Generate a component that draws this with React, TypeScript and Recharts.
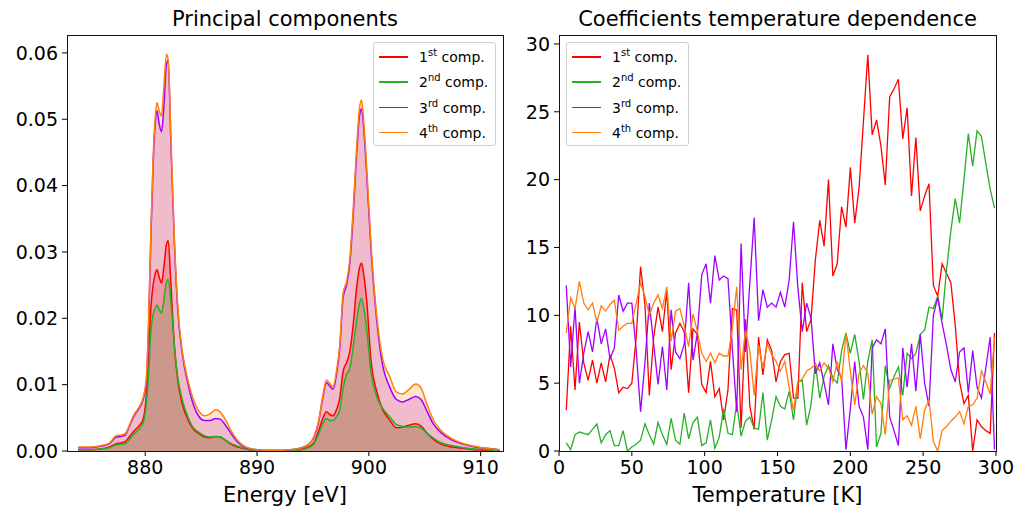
import React from "react";
import { ComposedChart, LineChart, Line, Area, XAxis, YAxis } from "recharts";

const FONT = "DejaVu Sans, sans-serif";
const RED = "#ff0000";
const GREEN = "#25b025";
const PURPLE = "#a000ff";
const ORANGE = "#ff7f0e";

// left panel: spectra of the principal components
const energies = [
    874, 875, 876, 876.8, 877.4, 877.8, 878.2, 878.6, 879.0, 879.4, 879.8, 880.1,
    880.3, 880.5, 880.7, 880.9, 881.05, 881.25, 881.45, 881.65, 881.9, 882.05,
    882.3, 882.6, 882.9, 883.3, 883.8, 884.3, 884.8, 885.3, 885.8, 886.3, 886.7, 887.2, 887.7, 888.3,
    889, 890, 891, 892, 893, 894, 894.6, 895.1, 895.5, 895.9,
    896.2, 896.5, 896.8, 897.1, 897.4, 897.7, 898.0, 898.3, 898.6, 898.9, 899.15, 899.35, 899.55, 899.8,
    900.2, 900.7, 901.25, 901.85, 902.45, 903.0, 903.6, 904.2, 904.7, 905.2, 905.8, 906.5, 907.5, 908.5, 909.5, 910.5, 911.7,
];
const spec1 = [
    0.0002, 0.0002, 0.0003, 0.0006, 0.0011, 0.0012, 0.0014, 0.0022, 0.003, 0.0037, 0.0047, 0.0085,
    0.014, 0.0215, 0.025, 0.0268, 0.0273, 0.0262, 0.0253, 0.0275, 0.0312, 0.0317,
    0.025, 0.016, 0.0108, 0.0072, 0.0048, 0.0033, 0.0026, 0.0021, 0.002, 0.0022, 0.0021, 0.0016, 0.001, 0.0006,
    0.0003, 0.0001, 0.0, 0.0, 0.0001, 0.0003, 0.0006, 0.0013, 0.003, 0.005,
    0.0059, 0.0055, 0.0053, 0.0062, 0.008, 0.012, 0.0133, 0.015, 0.019, 0.0245, 0.0275, 0.0283, 0.0265, 0.0228,
    0.0135, 0.009, 0.0062, 0.0047, 0.0035, 0.0036, 0.0039, 0.0041, 0.0037, 0.0027, 0.0017, 0.001, 0.0006, 0.0004, 0.0002, 0.0001, 0.0001,
];
const spec2 = [
    0.0002, 0.0002, 0.0003, 0.0005, 0.0009, 0.001, 0.0011, 0.0018, 0.0026, 0.0032, 0.0042, 0.0072,
    0.0116, 0.018, 0.0205, 0.0216, 0.022, 0.0213, 0.0208, 0.0226, 0.0255, 0.0259,
    0.0225, 0.016, 0.0112, 0.0078, 0.0052, 0.0035, 0.0028, 0.0023, 0.0021, 0.0022, 0.0021, 0.0016, 0.0011, 0.0007,
    0.0003, 0.0001, 0.0, 0.0, 0.0001, 0.0002, 0.0005, 0.0011, 0.0025, 0.0042,
    0.0049, 0.0046, 0.0046, 0.0052, 0.0062, 0.0095, 0.0115, 0.0125, 0.0157, 0.0195, 0.0222, 0.023, 0.0215, 0.0185,
    0.0118, 0.0082, 0.0064, 0.0052, 0.004, 0.0037, 0.0036, 0.0037, 0.0034, 0.0027, 0.0019, 0.0012, 0.0008, 0.0005, 0.0003, 0.0002, 0.0001,
];
const spec3 = [
    0.0005, 0.0005, 0.0007, 0.0011, 0.0021, 0.0022, 0.0024, 0.0038, 0.0053, 0.0063, 0.0077, 0.0105,
    0.019, 0.032, 0.043, 0.0495, 0.0513, 0.0493, 0.0481, 0.0515, 0.0583, 0.0589,
    0.0462, 0.0316, 0.0215, 0.0148, 0.0103, 0.007, 0.0052, 0.0046, 0.0046, 0.0049, 0.0048, 0.0038, 0.0026, 0.0013,
    0.0005, 0.0002, 0.0001, 0.0001, 0.0002, 0.0005, 0.001, 0.0021, 0.0043, 0.0082,
    0.0103, 0.0098, 0.0093, 0.0115, 0.0155, 0.0232, 0.025, 0.0283, 0.0355, 0.0445, 0.0503, 0.0516, 0.0485, 0.042,
    0.0302, 0.0198, 0.0128, 0.0097, 0.0078, 0.0074, 0.0078, 0.0082, 0.0077, 0.006, 0.004, 0.0027, 0.0016, 0.001, 0.0006, 0.0004, 0.0002,
];
const spec4 = [
    0.0006, 0.0006, 0.0008, 0.0012, 0.0023, 0.0024, 0.0026, 0.004, 0.0055, 0.0065, 0.008, 0.011,
    0.02, 0.033, 0.044, 0.0505, 0.0525, 0.0512, 0.0505, 0.0545, 0.0598, 0.059,
    0.047, 0.0322, 0.022, 0.0152, 0.0108, 0.0078, 0.006, 0.0053, 0.0056, 0.0062, 0.0059, 0.0046, 0.003, 0.0015,
    0.0006, 0.0002, 0.0001, 0.0001, 0.0002, 0.0005, 0.001, 0.0022, 0.0045, 0.0085,
    0.0107, 0.0102, 0.0097, 0.012, 0.016, 0.0238, 0.0255, 0.029, 0.0365, 0.0455, 0.0515, 0.0529, 0.0495, 0.043,
    0.031, 0.0205, 0.0138, 0.0113, 0.0089, 0.0086, 0.0093, 0.0101, 0.0094, 0.007, 0.0046, 0.003, 0.0018, 0.0011, 0.0007, 0.0004, 0.0002,
];
const energyTicks = [880, 890, 900, 910];
const specTicks = [0, 0.01, 0.02, 0.03, 0.04, 0.05, 0.06];

// right panel: coefficients vs temperature
const temps = [
    5, 8, 11, 14, 17, 20, 23, 26, 29, 32, 35, 38, 41, 44, 47, 50, 53, 56, 59, 62, 65, 68, 71, 74,
    77, 80, 83, 86, 89, 92, 95, 98, 101, 104, 107, 110, 113, 116, 119, 122, 125, 128, 131, 134, 137, 140, 143,
    146, 149, 152, 155, 158, 161, 164, 167, 170, 173, 176, 179, 182, 185, 188, 191, 194, 197, 200, 203, 206, 209, 212, 215, 218,
    221, 224, 227, 230, 233, 236, 239, 242, 245, 248, 251, 254, 257, 260, 263, 266, 269, 272, 275, 278, 281, 284, 287, 290, 293, 296, 299,
];
const coef1 = [
    3.0, 9.2, 4.5, 9.5, 6.5, 5.2, 6.7, 5.0, 6.5, 5.1, 7.1, 6.1, 4.3, 4.7, 4.6, 5.0, 8.4, 13.6, 10.8, 4.1, 8.4, 10.6, 8.8, 11.8,
    6.0, 8.7, 9.4, 8.8, 4.3, 9.0, 8.6, 4.9, 4.3, 6.6, 4.0, 4.6, 2.3, 4.5, 10.5, 10.4, 1.7, 9.7, 3.3, 1.6, 8.4, 5.6, 8.2,
    7.4, 5.1, 6.6, 7.1, 7.2, 3.9, 3.9, 12.4, 8.8, 9.7, 14.1, 17.0, 15.1, 20.0, 12.9, 13.8, 18.0, 16.5, 20.9, 16.8, 19.4, 24.3, 29.2, 23.3, 24.4,
    22.5, 19.6, 26.1, 26.7, 27.4, 23.0, 25.3, 18.8, 23.1, 17.7, 18.8, 19.7, 12.2, 11.4, 13.8, 13.1, 12.4, 9.3, 5.1, 3.5, 4.1, 0.0, 2.3, 1.8, 1.5, 1.3, 8.7,
];
const coef2 = [
    0.6, 0.1, 1.2, 1.4, 1.3, 1.2, 1.6, 2.0, 0.6, 1.2, 1.5, 0.4, 0.4, 1.5, 0.0, 0.3, 0.5, 0.8, 2.0, 1.2, 0.5, 2.1, 1.2, 0.5,
    2.4, 0.8, 0.5, 2.8, 0.9, 2.1, 2.5, 0.4, 0.6, 2.3, 0.2, 1.0, 3.1, 1.3, 1.2, 3.5, 1.1, 2.2, 2.5, 1.7, 1.6, 4.3, 0.8,
    2.3, 4.0, 3.3, 3.1, 4.4, 2.3, 5.1, 5.2, 1.9, 3.4, 6.5, 3.9, 5.5, 6.3, 5.4, 5.0, 7.4, 8.7, 7.2, 8.6, 6.6, 3.8, 6.6, 8.2, 0.3,
    1.3, 6.3, 4.6, 5.5, 6.2, 4.1, 7.2, 6.8, 7.2, 8.6, 8.9, 10.6, 10.5, 11.4, 9.7, 13.3, 16.2, 18.6, 16.8, 20.0, 23.4, 21.0, 23.6, 23.2, 21.2, 19.3, 17.9,
];
const coef3 = [
    12.2, 6.2, 10.6, 5.0, 7.2, 8.8, 7.3, 9.8, 7.9, 9.0, 6.8, 7.6, 11.5, 10.3, 10.9, 10.9, 7.4, 2.9, 6.5, 10.9, 7.9, 4.9, 7.7, 4.5,
    10.4, 7.3, 6.8, 7.9, 12.4, 6.7, 8.7, 13.0, 13.8, 10.9, 14.4, 12.6, 12.9, 12.7, 7.6, 2.9, 15.3, 7.3, 12.4, 17.2, 9.6, 11.9, 10.6,
    10.9, 10.6, 11.7, 10.6, 12.6, 16.9, 12.0, 8.8, 10.9, 9.8, 5.7, 6.5, 5.0, 3.4, 7.9, 6.0, 5.4, 0.1, 3.1, 6.6, 3.3, 2.5, 0.1, 7.6, 8.2,
    7.9, 9.0, 2.5, 1.5, 0.4, 7.6, 4.7, 7.9, 4.4, 8.6, 5.0, 3.3, 10.0, 11.3, 9.4, 7.8, 6.0, 5.1, 7.3, 7.6, 4.3, 7.4, 4.7, 3.9, 6.1, 8.4, 0.1,
];
const coef4 = [
    8.7, 11.3, 10.5, 12.5, 10.9, 10.4, 10.9, 9.5, 10.7, 10.3, 10.8, 11.1, 8.9, 9.2, 9.4, 9.4, 10.9, 12.4, 11.4, 10.0, 10.9, 11.5, 10.5, 12.1,
    8.1, 10.3, 10.5, 9.2, 7.7, 10.1, 8.8, 7.2, 6.6, 7.2, 6.5, 7.2, 7.0, 7.0, 9.0, 12.1, 6.0, 8.9, 7.4, 4.1, 7.8, 6.1, 7.9,
    7.1, 6.6, 5.9, 6.6, 4.7, 3.0, 5.1, 5.3, 5.9, 6.1, 6.4, 5.9, 6.5, 6.1, 5.1, 6.6, 5.1, 8.7, 5.9, 3.4, 5.7, 6.3, 5.7, 2.7, 4.0,
    3.5, 1.2, 5.2, 5.3, 5.4, 2.3, 2.6, 1.9, 3.3, 0.9, 3.0, 3.8, 0.7, 0.0, 1.5, 1.8, 2.2, 2.5, 2.9, 2.0, 3.3, 3.4, 3.9, 5.9, 5.1, 4.2, 8.4,
];
const tempTicks = [0, 50, 100, 150, 200, 250, 300];
const coefTicks = [0, 5, 10, 15, 20, 25, 30];

const legendItems = [
    { num: "1", sup: "st", color: RED },
    { num: "2", sup: "nd", color: GREEN },
    { num: "3", sup: "rd", color: PURPLE },
    { num: "4", sup: "th", color: ORANGE },
];

const specData = energies.map((e, i) => ({ e, c1: spec1[i], c2: spec2[i], c3: spec3[i], c4: spec4[i] }));
const coefData = temps.map((t, i) => ({ t, c1: coef1[i], c2: coef2[i], c3: coef3[i], c4: coef4[i] }));

const tickStyle = { fill: "#000", fontSize: 19, fontFamily: FONT };

function LegendBox({ left, top }: { left: number; top: number }) {
    return (
        <div
            style={{
                position: "absolute",
                left,
                top,
                width: 123,
                height: 104,
                boxSizing: "border-box",
                border: "1px solid #d0d0d0",
                borderRadius: 3,
                background: "rgba(255,255,255,0.85)",
                fontFamily: FONT,
                fontSize: 14,
                color: "#000",
            }}
        >
            {legendItems.map((it, i) => (
                <div key={it.num} style={{ position: "absolute", left: 0, top: 14 + i * 25.3 - 10, height: 20, width: 123 }}>
                    <div style={{ position: "absolute", left: 5, top: 9, width: 29, height: 1.5, background: it.color }} />
                    <div style={{ position: "absolute", left: 45, top: 1, whiteSpace: "nowrap", lineHeight: "18px" }}>
                        {it.num}
                        <span style={{ fontSize: 10, position: "relative", top: -6 }}>{it.sup}</span> comp.
                    </div>
                </div>
            ))}
        </div>
    );
}

function Frame({ left, top, width, height }: { left: number; top: number; width: number; height: number }) {
    return (
        <div
            style={{
                position: "absolute",
                left: left - 0.5,
                top: top - 0.5,
                width: width + 1,
                height: height + 1,
                boxSizing: "border-box",
                border: "1.2px solid #111",
                pointerEvents: "none",
            }}
        />
    );
}

export default function App() {
    return (
        <div style={{ position: "absolute", left: 0, top: 0, width: 1019, height: 510, background: "#fff", overflow: "hidden" }}>
            <div style={{ position: "absolute", left: 0, top: 0 }}>
                <ComposedChart width={520} height={510} data={specData} margin={{ top: 35, right: 17, bottom: 0, left: 0 }}>
                    <XAxis
                        dataKey="e"
                        type="number"
                        domain={[873, 912]}
                        ticks={energyTicks}
                        allowDataOverflow
                        height={59}
                        axisLine={false}
                        tickLine={{ stroke: "#000" }}
                        tickSize={5}
                        tickMargin={5}
                        tick={tickStyle}
                    />
                    <YAxis
                        type="number"
                        domain={[0, 0.0627]}
                        ticks={specTicks}
                        allowDataOverflow
                        width={67}
                        axisLine={false}
                        tickLine={{ stroke: "#000" }}
                        tickSize={5}
                        tickMargin={4}
                        tick={tickStyle}
                        tickFormatter={(v: number) => v.toFixed(2)}
                    />
                    <Area type="monotone" dataKey="c4" stroke="none" fill={ORANGE} fillOpacity={0.2} isAnimationActive={false} />
                    <Area type="monotone" dataKey="c3" stroke="none" fill="#b418c5" fillOpacity={0.2} isAnimationActive={false} />
                    <Area type="monotone" dataKey="c1" stroke="none" fill={RED} fillOpacity={0.2} isAnimationActive={false} />
                    <Area type="monotone" dataKey="c2" stroke="none" fill="#2ca02c" fillOpacity={0.2} isAnimationActive={false} />
                    <Line type="monotone" dataKey="c1" stroke={RED} strokeWidth={1.5} dot={false} isAnimationActive={false} />
                    <Line type="monotone" dataKey="c2" stroke={GREEN} strokeWidth={1.5} dot={false} isAnimationActive={false} />
                    <Line type="monotone" dataKey="c3" stroke={PURPLE} strokeWidth={1.5} dot={false} isAnimationActive={false} />
                    <Line type="monotone" dataKey="c4" stroke={ORANGE} strokeWidth={1.5} dot={false} isAnimationActive={false} />
                </ComposedChart>
            </div>
            <div style={{ position: "absolute", left: 510, top: 0 }}>
                <LineChart width={509} height={510} data={coefData} margin={{ top: 35, right: 23, bottom: 0, left: 0 }}>
                    <XAxis
                        dataKey="t"
                        type="number"
                        domain={[0, 300]}
                        ticks={tempTicks}
                        allowDataOverflow
                        height={59}
                        axisLine={false}
                        tickLine={{ stroke: "#000" }}
                        tickSize={5}
                        tickMargin={5}
                        tick={tickStyle}
                    />
                    <YAxis
                        type="number"
                        domain={[0, 30.66]}
                        ticks={coefTicks}
                        allowDataOverflow
                        width={49}
                        axisLine={false}
                        tickLine={{ stroke: "#000" }}
                        tickSize={5}
                        tickMargin={4}
                        tick={tickStyle}
                    />
                    <Line type="linear" dataKey="c1" stroke={RED} strokeWidth={1.3} dot={false} isAnimationActive={false} />
                    <Line type="linear" dataKey="c2" stroke={GREEN} strokeWidth={1.3} dot={false} isAnimationActive={false} />
                    <Line type="linear" dataKey="c3" stroke={PURPLE} strokeWidth={1.3} dot={false} isAnimationActive={false} />
                    <Line type="linear" dataKey="c4" stroke={ORANGE} strokeWidth={1.3} dot={false} isAnimationActive={false} />
                </LineChart>
            </div>
            <Frame left={67} top={35} width={436} height={416} />
            <Frame left={559} top={35} width={437} height={416} />
            <LegendBox left={373} top={42} />
            <LegendBox left={566} top={42} />
            <svg width={1019} height={510} style={{ position: "absolute", left: 0, top: 0, pointerEvents: "none" }}>
                <g fontFamily={FONT} fontSize={21} fill="#000" textAnchor="middle">
                    <text x={285} y={26}>Principal components</text>
                    <text x={777.5} y={26}>Coefficients temperature dependence</text>
                    <text x={285} y={502}>Energy [eV]</text>
                    <text x={777.5} y={502}>Temperature [K]</text>
                </g>
            </svg>
        </div>
    );
}
